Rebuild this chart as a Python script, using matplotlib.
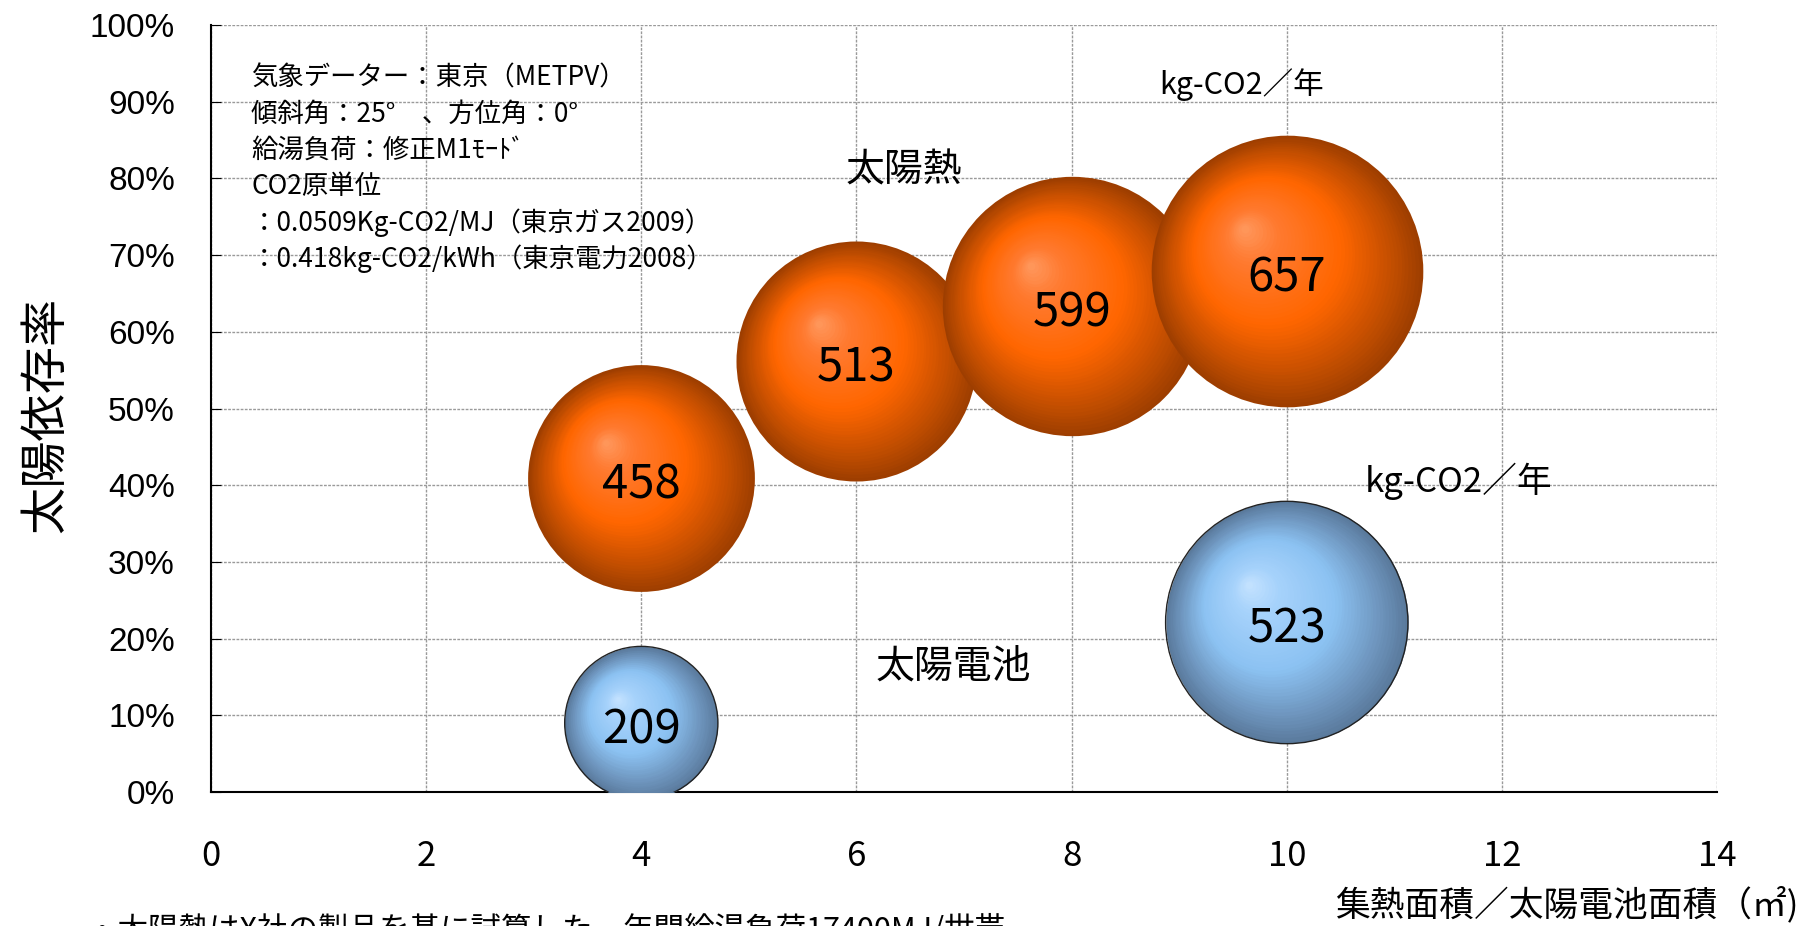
import numpy as np
import matplotlib.pyplot as plt
from matplotlib.colors import LinearSegmentedColormap
from matplotlib.transforms import ScaledTranslation
from matplotlib.ticker import PercentFormatter

plt.rcParams['font.family'] = ['Noto Sans CJK JP', 'DejaVu Sans']

# 太陽熱
heat_area = [4, 6, 8, 10]
heat_ratio = [40.9, 56.2, 63.3, 67.9]
heat_co2 = [458, 513, 599, 657]

# 太陽電池
pv_area = [4, 10]
pv_ratio = [9.0, 22.1]
pv_co2 = [209, 523]

x_ticks = [0, 2, 4, 6, 8, 10, 12, 14]
y_ticks = [0, 10, 20, 30, 40, 50, 60, 70, 80, 90, 100]

notes = [
    "気象データー：東京（METPV）",
    "傾斜角：25°　、方位角：0°",
    "給湯負荷：修正M1ﾓｰﾄﾞ",
    "CO2原単位",
    "：0.0509Kg-CO2/MJ（東京ガス2009）",
    "：0.418kg-CO2/kWh（東京電力2008）",
]
footnote = "・太陽熱はX社の製品を基に試算した。年間給湯負荷17400MJ/世帯"

orange = LinearSegmentedColormap.from_list("orange", [
    (0.0, "#9E3E00"), (0.15, "#C04D00"), (0.45, "#FF6600"),
    (0.8, "#FF7A30"), (1.0, "#FF9A60")])
blue = LinearSegmentedColormap.from_list("blue", [
    (0.0, "#5A7A9C"), (0.15, "#6C92BA"), (0.45, "#8CC2F2"),
    (0.8, "#A6D2FB"), (1.0, "#C6E3FF")])

fig = plt.figure(figsize=(18.08, 9.26), dpi=100)
ax = fig.add_axes([0.1167, 0.1447, 0.833, 0.8283])


def draw_bubbles(xs, ys, vals, cmap, edge=None):
    for x, y, v in zip(xs, ys, vals):
        d = 7.63 * np.sqrt(v)   # marker diameter in points (area ~ value)
        r = d / 2
        for t in np.linspace(0, 0.97, 50):
            off = ScaledTranslation(-0.32 * r * t / 72, 0.32 * r * t / 72,
                                    fig.dpi_scale_trans)
            ax.scatter([x], [y], s=(d * (1 - t)) ** 2, color=cmap(t),
                       linewidths=0, transform=ax.transData + off, zorder=3)
        if edge:
            ax.scatter([x], [y], s=d ** 2, facecolors="none",
                       edgecolors=edge, linewidths=1, zorder=4)
        ax.annotate(str(v), xy=(x, y), xytext=(0, -5),
                    textcoords="offset points", ha="center", va="center",
                    fontsize=34, zorder=5)


draw_bubbles(heat_area, heat_ratio, heat_co2, orange)
draw_bubbles(pv_area, pv_ratio, pv_co2, blue, edge="#222222")

ax.set_xlim(0, 14)
ax.set_ylim(0, 100)
ax.set_xticks(x_ticks)
ax.set_yticks(y_ticks)
ax.yaxis.set_major_formatter(PercentFormatter(100, decimals=0))
for lab in ax.get_yticklabels():
    lab.set_fontfamily("Liberation Sans")
ax.tick_params(axis="y", direction="in", length=7, pad=26, labelsize=24)
ax.tick_params(axis="x", length=0, pad=34, labelsize=25)

ax.set_axisbelow(True)
ax.grid(True, color="#9a9a9a", linestyle=(0, (2, 1)), linewidth=1)
for s in ["top", "right"]:
    ax.spines[s].set_visible(False)
for s in ["left", "bottom"]:
    ax.spines[s].set_linewidth(1.5)
    ax.spines[s].set_color("black")

for i, line in enumerate(notes):
    ax.annotate(line, xy=(0.0266, 0.931), xycoords="axes fraction",
                xytext=(0, -26 * i), textcoords="offset points",
                ha="left", va="center", fontsize=19)

ax.text(6.44, 81, "太陽熱", ha="center", va="center", fontsize=28)
ax.text(6.9, 16.4, "太陽電池", ha="center", va="center", fontsize=28)
ax.text(9.58, 92.2, "kg-CO2／年", ha="center", va="center", fontsize=22)
ax.text(11.6, 40.5, "kg-CO2／年", ha="center", va="center", fontsize=25)

fig.text(46 / 1808, 1 - 415 / 926, "太陽依存率", rotation=90,
         ha="center", va="center", fontsize=34)
fig.text(0.995, 1 - 905 / 926, "集熱面積／太陽電池面積（㎡)",
         ha="right", va="center", fontsize=25)
fig.text(87 / 1808, -0.013, footnote, ha="left", va="baseline", fontsize=22)

fig.savefig("out.png", dpi=100)
